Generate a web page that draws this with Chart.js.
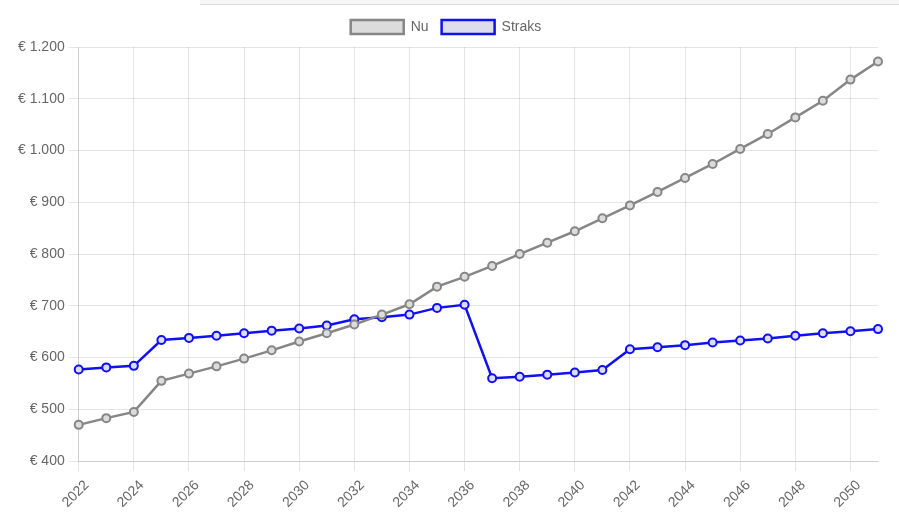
<!DOCTYPE html>
<html>
<head>
<meta charset="utf-8">
<script src="https://cdn.jsdelivr.net/npm/chart.js@4/dist/chart.umd.min.js"></script>
<style>
  html, body { margin: 0; padding: 0; background: #fff; }
  #wrap { position: relative; width: 899px; height: 515px; }
  #topbar { position: absolute; left: 200px; top: 0; width: 699px; height: 4px; border-bottom: 1px solid #ddd; background: #f7f7f7; }
</style>
</head>
<body>
<div id="wrap">
  <div id="topbar"></div>
  <canvas id="chart"></canvas>
</div>
<script>
// jaren
var jaren = [2022, 2023, 2024, 2025, 2026, 2027, 2028, 2029, 2030, 2031,
  2032, 2033, 2034, 2035, 2036, 2037, 2038, 2039, 2040, 2041,
  2042, 2043, 2044, 2045, 2046, 2047, 2048, 2049, 2050, 2051];

var nuWaarden = [470, 483, 495, 555, 569, 583, 598, 614, 631, 647,
  664, 683, 703, 737, 756, 777, 800, 822, 844, 869,
  894, 920, 947, 974, 1003, 1032, 1064, 1096, 1137, 1172];

var straksWaarden = [577, 581, 584, 634, 638, 642, 647, 652, 656, 662,
  674, 678, 683, 696, 702, 560, 563, 567, 571, 576,
  616, 620, 624, 629, 633, 637, 642, 647, 651, 655];

var yMin = 400, yMax = 1200, yStap = 100;

function euro(v) {
  var s = String(v).replace(/\B(?=(\d{3})+(?!\d))/g, ".");
  return "€ " + s;
}

// iets meer ruimte onder de legenda
var legendGap = {
  id: "legendGap",
  beforeInit: function (chart) {
    var fit = chart.legend.fit;
    chart.legend.fit = function () {
      fit.bind(chart.legend)();
      this.height += 3;
    };
  }
};

var ctx = document.getElementById("chart").getContext("2d");
Chart.defaults.font.family = "'Liberation Sans', Arial, sans-serif";
Chart.defaults.color = "#666";

var myChart = new Chart(ctx, {
  type: "line",
  data: {
    labels: jaren,
    datasets: [{
      label: "Nu",
      data: nuWaarden,
      borderColor: "#868686",
      backgroundColor: "rgba(220,220,220,1)",
      pointBackgroundColor: "rgba(220,220,220,1)",
      pointBorderColor: "#868686",
      borderWidth: 2.5,
      pointRadius: 4,
      pointBorderWidth: 2,
      tension: 0,
      fill: false
    }, {
      label: "Straks",
      data: straksWaarden,
      borderColor: "#1010f0",
      backgroundColor: "rgba(221,221,238,1)",
      pointBackgroundColor: "rgba(221,221,238,1)",
      pointBorderColor: "#1010f0",
      borderWidth: 2.5,
      pointRadius: 4,
      pointBorderWidth: 2,
      tension: 0,
      fill: false
    }]
  },
  plugins: [legendGap],
  options: {
    responsive: true,
    maintainAspectRatio: false,
    animation: false,
    layout: { padding: { left: 14, right: 21, top: 7, bottom: -2 } },
    plugins: {
      legend: {
        labels: { boxWidth: 53, boxHeight: 14, font: { size: 14 }, padding: 13 }
      },
      tooltip: { enabled: false }
    },
    scales: {
      x: {
        grid: { color: "rgba(0,0,0,0.1)", tickLength: 10 },
        ticks: {
          font: { size: 14 },
          padding: 6,
          labelOffset: 8,
          minRotation: 45,
          maxRotation: 45,
          autoSkip: true,
          maxTicksLimit: 15
        }
      },
      y: {
        min: yMin,
        max: yMax,
        grid: { color: "rgba(0,0,0,0.1)", tickLength: 10 },
        ticks: {
          stepSize: yStap,
          font: { size: 14 },
          padding: 4,
          callback: function (v) { return euro(v); }
        }
      }
    }
  }
});
</script>
</body>
</html>
